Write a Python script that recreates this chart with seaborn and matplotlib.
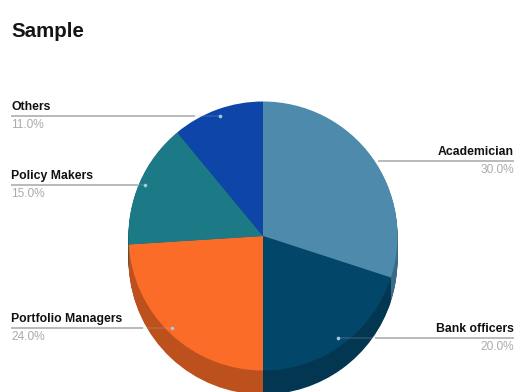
import matplotlib
matplotlib.use("Agg")
import matplotlib.pyplot as plt
import seaborn as sns

categories = ["Academician", "Bank officers", "Portfolio Managers", "Policy Makers", "Others"]
shares = [30.0, 20.0, 24.0, 15.0, 11.0]
top_colors = ["#4d8aac", "#02466a", "#fb6c28", "#1c7a86", "#0d45a8"]
side_colors = ["#3a6a85", "#033650", "#bd511e", "#155c65", "#0a3480"]

sns.set_theme(style="white")
plt.rcParams["font.family"] = ["Liberation Sans", "DejaVu Sans"]

fig = plt.figure(figsize=(5.15, 3.92), dpi=100)
ax = fig.add_axes([0, 0, 1, 1])

H = 392
cx, cy, r, depth = 263, H - 236, 134.5, 24

# Extruded side of the pie: darker copies stacked downward
for step in range(depth, 0, -1):
    ax.pie(shares, colors=side_colors, startangle=90, counterclock=False,
           center=(cx, cy - step), radius=r, wedgeprops={"linewidth": 0})
ax.pie(shares, colors=top_colors, startangle=90, counterclock=False,
       center=(cx, cy), radius=r, wedgeprops={"linewidth": 0})

ax.set_xlim(0, 515)
ax.set_ylim(0, H)
ax.set_aspect("equal")
ax.axis("off")

# Leader lines: solid up to the pie's rim, faint where they cross a slice
line_color = "#b4b4b4"
callouts = [
    # label index, text x, line y, rim x, inner end x, alignment, show dot
    (0, 514, 161, 378, 378, "right", False),
    (1, 514, 338, 375, 338, "right", True),
    (2, 11, 328, 143, 172, "left", True),
    (3, 11, 185, 138, 145, "left", True),
    (4, 11, 116, 195, 220, "left", True),
]
for i, x, y, x_rim, x_end, ha, dot in callouts:
    ax.plot([x, x_rim], [H - y, H - y], color=line_color, lw=1.3,
            solid_capstyle="butt", zorder=5)
    ax.plot([x_rim, x_end], [H - y, H - y], color=line_color, lw=1.1,
            alpha=0.22, solid_capstyle="butt", zorder=5)
    if dot:
        ax.plot([x_end], [H - y], "o", ms=2.6, color="#a9c8da", mew=0, zorder=6)
    ax.text(x, H - y + 9, categories[i], ha=ha, va="center", fontsize=8.8,
            fontweight="bold", color="#111111", zorder=7)
    ax.text(x, H - y - 9, f"{shares[i]:.1f}%", ha=ha, va="center", fontsize=8.6,
            color="#ababab", zorder=7)

ax.text(11, H - 31, "Sample", ha="left", va="center", fontsize=14.8,
        fontweight="bold", color="#151515")

fig.savefig("out.png", dpi=100, facecolor="white")
